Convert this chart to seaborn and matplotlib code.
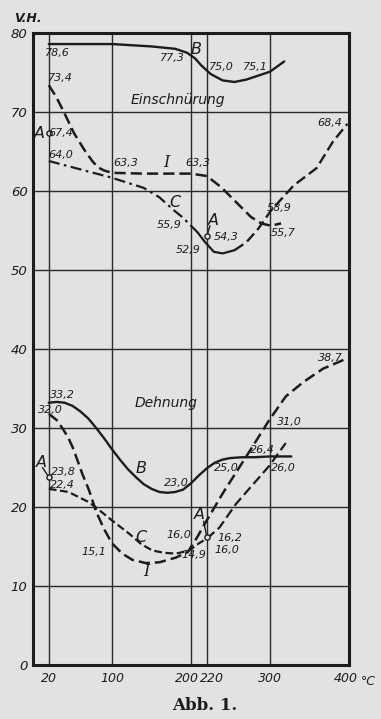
import numpy as np
import pandas as pd
import matplotlib
matplotlib.use("Agg")
import matplotlib.pyplot as plt
import matplotlib.transforms as mtransforms
import seaborn as sns

# ---------------- data (temperature in °C, values in v.H.) ----------------
# Einschnürung (reduction of area)
ein_B_t = [20, 100, 150, 180, 195, 205, 213, 225, 240, 255, 270, 285, 300, 318]
ein_B_v = [78.6, 78.6, 78.3, 78.0, 77.5, 76.8, 75.9, 74.8, 74.0, 73.8, 74.1, 74.6, 75.1, 76.4]

ein_I_t = [20, 30, 40, 52, 65, 75, 82, 90, 100, 140, 200, 220, 238, 251, 263, 276, 289, 301, 314]
ein_I_v = [73.4, 71.8, 69.8, 67.3, 65.2, 63.8, 63.0, 62.6, 62.3, 62.2, 62.2, 61.9, 60.5, 59.2, 58.0, 56.7, 55.9, 55.6, 55.9]

ein_C_t = [20, 50, 99, 140, 160, 179, 189, 208, 218, 229, 240, 255, 270, 285, 301, 330, 359, 380, 398]
ein_C_v = [63.8, 63.0, 61.7, 60.4, 59.2, 57.5, 56.7, 54.8, 53.5, 52.3, 52.1, 52.5, 53.5, 55.2, 57.5, 60.7, 62.9, 66.3, 68.5]

ein_A_t = [20, 220]
ein_A_v = [67.4, 54.3]

# Dehnung (elongation)
deh_B_t = [20, 30, 40, 50, 60, 70, 80, 90, 100, 110, 120, 130, 140, 150, 160, 170, 180, 190, 200, 210, 220, 230, 240, 250, 265, 280, 300, 327]
deh_B_v = [33.2, 33.3, 33.2, 32.8, 32.1, 31.2, 30.0, 28.7, 27.3, 26.0, 24.8, 23.8, 22.9, 22.3, 21.9, 21.8, 21.9, 22.2, 23.0, 24.0, 24.9, 25.6, 26.0, 26.2, 26.3, 26.3, 26.4, 26.4]

deh_I_t = [20, 30, 37, 44, 50, 56, 62, 71, 80, 90, 100, 113, 126, 143, 160, 181, 196, 208, 217, 240, 270, 299, 320, 342, 367, 395]
deh_I_v = [31.8, 31.0, 30.0, 28.9, 27.6, 26.0, 24.3, 22.1, 19.4, 17.2, 15.4, 14.1, 13.3, 12.9, 13.0, 13.6, 14.3, 16.2, 17.8, 21.7, 26.4, 31.0, 34.0, 35.8, 37.5, 38.7]

deh_C_t = [20, 45, 71, 79, 100, 122, 137, 151, 166, 181, 198, 210, 220, 236, 257, 278, 299, 320]
deh_C_v = [22.3, 21.9, 20.6, 20.0, 18.3, 16.6, 15.3, 14.5, 14.2, 14.1, 14.5, 15.4, 16.0, 17.4, 20.4, 22.8, 25.2, 28.1]

deh_A_t = [20, 220]
deh_A_v = [23.8, 16.2]

x_ticks = [20, 100, 200, 220, 300, 400]
x_tick_labels = ["20", "100", "200", "220", "300", "400"]
y_ticks = [0, 10, 20, 30, 40, 50, 60, 70, 80]

# value labels written on the chart: (text, x, y)
value_labels = [
    ("78,6", 30.5, 77.5), ("77,3", 177, 76.8), ("75,0", 238, 75.7), ("75,1", 281, 75.7),
    ("73,4", 35, 74.3), ("68,4", 376, 68.6), ("67,4", 35, 67.3), ("64,0", 35, 64.5),
    ("63,3", 118, 63.5), ("63,3", 209, 63.5), ("55,9", 173, 55.7), ("54,3", 245, 54.2),
    ("52,9", 196, 52.5), ("58,9", 312, 57.8), ("55,7", 317, 54.7),
    ("38,7", 376, 38.9), ("33,2", 37, 34.2), ("32,0", 22.5, 32.3), ("31,0", 325, 30.8),
    ("26,4", 291, 27.2), ("26,0", 317, 24.9), ("23,0", 181, 23.0), ("25,0", 245, 24.9),
    ("23,8", 39, 24.4), ("22,4", 37, 22.8), ("16,0", 185, 16.5), ("16,2", 249, 16.1),
    ("16,0", 245, 14.6), ("15,1", 77, 14.3), ("14,9", 204, 13.9),
]
curve_letters = [
    ("B", 207, 77.9), ("I", 169, 63.6), ("C", 179, 58.6), ("A", 7.6, 67.3), ("A", 228, 56.3),
    ("B", 137, 24.9), ("C", 137, 16.2), ("I", 143, 11.8), ("A", 10, 25.6), ("A", 211, 19.0),
]

# ---------------- style ----------------
INK = "#1c1c1c"
PAPER = "#e2e2e0"

sns.set_theme(style="white")
plt.rcParams['font.family'] = ['DejaVu Sans']

fig = plt.figure(figsize=(3.81, 7.19), dpi=100)
fig.patch.set_facecolor(PAPER)
ax = fig.add_axes([33 / 381, 54 / 719, 316 / 381, 632 / 719])
ax.set_facecolor(PAPER)


def draw(t, v, ls, lw=1.6, lo=None, hi=None):
    df = pd.DataFrame({"t": t, "v": v})
    if lo is not None:
        df = df[df["t"] >= lo]
    if hi is not None:
        df = df[df["t"] <= hi]
    sns.lineplot(data=df, x="t", y="v", ax=ax, color=INK, lw=lw, linestyle=ls,
                 estimator=None, sort=False, legend=False, zorder=3)


DASH = (0, (4.5, 2.0))
DASHDOT = (0, (5.0, 2.0, 1.2, 2.0))
SHORTDASH = (0, (3.5, 1.6))

# Einschnürung
draw(ein_B_t, ein_B_v, "-", lw=1.7)
draw(ein_I_t, ein_I_v, DASH, lw=1.8)
draw(ein_C_t, ein_C_v, DASHDOT, lw=1.6, hi=208)
draw(ein_C_t, ein_C_v, "-", lw=1.6, lo=208, hi=255)
draw(ein_C_t, ein_C_v, DASH, lw=1.7, lo=255)

# Dehnung
draw(deh_B_t, deh_B_v, "-", lw=1.7)
draw(deh_I_t, deh_I_v, DASH, lw=1.8)
draw(deh_C_t, deh_C_v, SHORTDASH, lw=1.6, hi=220)
draw(deh_C_t, deh_C_v, DASH, lw=1.6, lo=220)

# A points
sns.scatterplot(x=ein_A_t + deh_A_t, y=ein_A_v + deh_A_v, ax=ax, marker="o", s=14,
                facecolor=PAPER, edgecolor=INK, linewidth=1.0, zorder=5, legend=False)

# leader lines from "A" letters to their points
ax.annotate("", xy=(deh_A_t[0], deh_A_v[0]), xytext=(12, 25.0),
            arrowprops=dict(arrowstyle="-", color=INK, lw=1.0, shrinkA=0, shrinkB=2))
ax.annotate("", xy=(deh_A_t[1], deh_A_v[1]), xytext=(216, 18.2),
            arrowprops=dict(arrowstyle="-", color=INK, lw=1.0, shrinkA=0, shrinkB=2))
ax.annotate("", xy=(ein_A_t[1], ein_A_v[1]), xytext=(224, 55.6),
            arrowprops=dict(arrowstyle="-", color=INK, lw=1.0, shrinkA=0, shrinkB=2))

# texts
for txt, x, y in value_labels:
    ax.text(x, y, txt, fontsize=8, style="italic", color=INK, ha="center", va="center", zorder=6)
for txt, x, y in curve_letters:
    fam = "DejaVu Serif" if txt == "I" else "DejaVu Sans"
    ax.text(x, y, txt, fontsize=11.5, style="italic", family=fam, color=INK,
            ha="center", va="center", zorder=6)
ax.text(183, 71.5, "Einschnürung", fontsize=10, style="italic", color=INK, ha="center", va="center")
ax.text(169, 33.2, "Dehnung", fontsize=10, style="italic", color=INK, ha="center", va="center")

# axes
ax.set_xlim(0, 400)
ax.set_ylim(0, 80)
ax.set_xticks(x_ticks)
ax.set_xticklabels(x_tick_labels, fontsize=9, style="italic", color=INK)
ax.set_yticks(y_ticks)
ax.set_yticklabels([str(v) for v in y_ticks], fontsize=9.5, style="italic", color=INK)
ax.tick_params(axis="both", length=0, pad=4)
ax.tick_params(axis="x", pad=5)

# nudge the crowded 200 / 220 labels apart, as in the original
for lab in ax.get_xticklabels():
    if lab.get_text() == "200":
        lab.set_transform(lab.get_transform() + mtransforms.ScaledTranslation(-4 / 100, 0, fig.dpi_scale_trans))
    elif lab.get_text() == "220":
        lab.set_transform(lab.get_transform() + mtransforms.ScaledTranslation(5 / 100, 0, fig.dpi_scale_trans))
    elif lab.get_text() == "400":
        lab.set_transform(lab.get_transform() + mtransforms.ScaledTranslation(-3 / 100, 0, fig.dpi_scale_trans))

ax.grid(True, color="#2a2a2a", lw=1.0)
ax.set_axisbelow(True)
ax.set_xlabel("")
ax.set_ylabel("")
for sp in ax.spines.values():
    sp.set_color(INK)
    sp.set_linewidth(2.2)
    sp.set_visible(True)

ax.annotate("°C", xy=(1.0, 0.0), xycoords="axes fraction", xytext=(8.5, -12),
            textcoords="offset points", fontsize=9, style="italic", color=INK,
            ha="left", va="center", annotation_clip=False)

fig.text(28 / 381, 1 - 19 / 719, "V.H.", fontsize=9, style="italic", weight="bold",
         color=INK, ha="center", va="center")
fig.text(205 / 381, 1 - 706 / 719, "Abb. 1.", fontsize=12, weight="bold",
         family="DejaVu Serif", color=INK, ha="center", va="center")

fig.savefig("out.png", dpi=100, facecolor=PAPER)
